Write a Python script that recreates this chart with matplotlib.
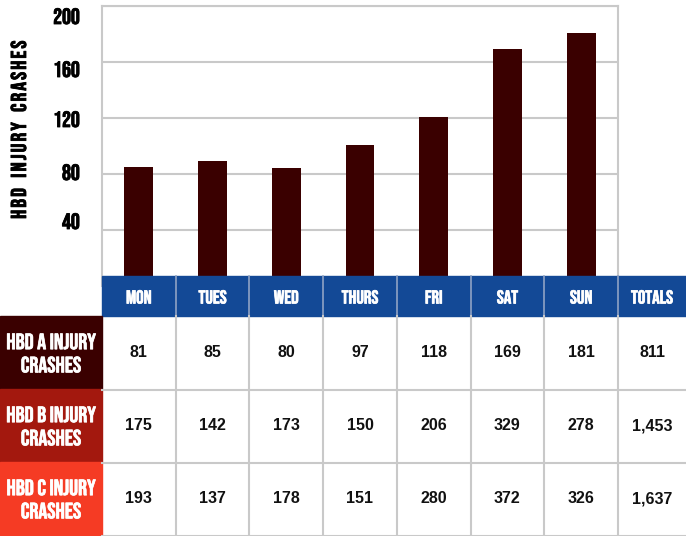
import matplotlib
matplotlib.use("Agg")
import matplotlib.pyplot as plt
from matplotlib.patches import Rectangle
from matplotlib import patheffects as pe
from matplotlib.transforms import ScaledTranslation

days = ["MON", "TUES", "WED", "THURS", "FRI", "SAT", "SUN"]
# bar heights as drawn in the picture
bar_heights = [85, 89, 84.5, 100.5, 121, 169.5, 181]
a_crashes = [81, 85, 80, 97, 118, 169, 181]
b_crashes = [175, 142, 173, 150, 206, 329, 278]
c_crashes = [193, 137, 178, 151, 280, 372, 326]
totals = ["811", "1,453", "1,637"]
row_labels = ["HBD A INJURY\nCRASHES", "HBD B INJURY\nCRASHES", "HBD C INJURY\nCRASHES"]
yticks = [40, 80, 120, 160, 200]
# tick labels sit a little off their grid lines in the original (pixels, down = +)
tick_shift = [-9, -2, 1, 7, 10]

W, H = 686, 536
narrow = ["Bebas Neue", "Oswald", "DejaVu Sans"]
plain = ["Liberation Sans", "Arimo", "DejaVu Sans"]
bar_color = "#3a0000"
row_colors = ["#3a0000", "#a3180e", "#f53b24"]
blue = "#134996"
grid = "#c9c9c9"


def bold(color, w=0.7):
    return [pe.withStroke(linewidth=w, foreground=color)]


fig = plt.figure(figsize=(W / 100, H / 100), dpi=100)

# bar chart, from x=102..618 px, y=6..286 px (top-down)
ax = fig.add_axes([102 / W, (H - 286) / H, (618 - 102) / W, (286 - 6) / H])
ax.bar(range(len(days)), bar_heights, width=0.39, color=bar_color, zorder=3)
ax.set_xlim(-0.5, len(days) - 0.5)
ax.set_ylim(0, 200)
ax.set_yticks(yticks)
ax.set_yticklabels([str(t) for t in yticks], family=narrow, fontsize=16)
ax.tick_params(axis="y", length=0, pad=16)
for lab, dy in zip(ax.get_yticklabels(), tick_shift):
    lab.set_transform(lab.get_transform() + ScaledTranslation(0, -dy / 100, fig.dpi_scale_trans))
    lab.set_path_effects(bold("black", 0.6))
ax.set_xticks([])
ax.yaxis.grid(True, color=grid, linewidth=1.5, zorder=0)
for s in ax.spines.values():
    s.set_color(grid)
    s.set_linewidth(1.5)
ax.spines["bottom"].set_visible(False)

hs = "\u200a"
ylab = "   ".join(hs.join(word) for word in ["HBD", "INJURY", "CRASHES"])
fig.text(18 / W, 1 - 130 / H, ylab, rotation=90, ha="center", va="center",
         family=narrow, fontsize=15.5, path_effects=bold("black", 0.6))

# table overlay in pixel coords
tab = fig.add_axes([0, 0, 1, 1], zorder=5)
tab.set_xlim(0, W)
tab.set_ylim(H, 0)
tab.axis("off")
tab.patch.set_alpha(0)

col_w = (618 - 102) / len(days)
col_x = [102 + i * col_w for i in range(len(days))] + [618]
col_widths = [col_w] * len(days) + [W - 618]
header_top, header_bot = 276, 316
row_tops = [316, 389, 462]
row_h = 73.5

tab.add_patch(Rectangle((102, header_top), W - 102, header_bot - header_top, color=blue))
for i, name in enumerate(days + ["TOTALS"]):
    tab.text(col_x[i] + col_widths[i] / 2, 296.5, name, ha="center", va="center",
             color="white", family=narrow, fontsize=13.5, path_effects=bold("white", 0.5))
    if i > 0:
        tab.plot([col_x[i], col_x[i]], [header_top, header_bot], color="#8fa3c4", lw=1.2)

rows = [a_crashes, b_crashes, c_crashes]
for r, vals in enumerate(rows):
    top = row_tops[r]
    tab.add_patch(Rectangle((0, top), 102, row_h, color=row_colors[r]))
    tab.text(51, top + row_h / 2, row_labels[r], ha="center", va="center", color="white",
             family=narrow, fontsize=16, linespacing=1.45, path_effects=bold("white", 0.5))
    cells = [str(v) for v in vals] + [totals[r]]
    for i, txt in enumerate(cells):
        tab.text(col_x[i] + col_widths[i] / 2, top + row_h / 2, txt, ha="center", va="center",
                 color="#111111", family=plain, fontweight="bold", fontsize=11.5)
    tab.plot([102, W], [top + row_h, top + row_h], color=grid, lw=1.5)

for i in range(1, len(col_x)):
    tab.plot([col_x[i], col_x[i]], [header_bot, H], color=grid, lw=1.5)

fig.savefig("out.png", dpi=100)
